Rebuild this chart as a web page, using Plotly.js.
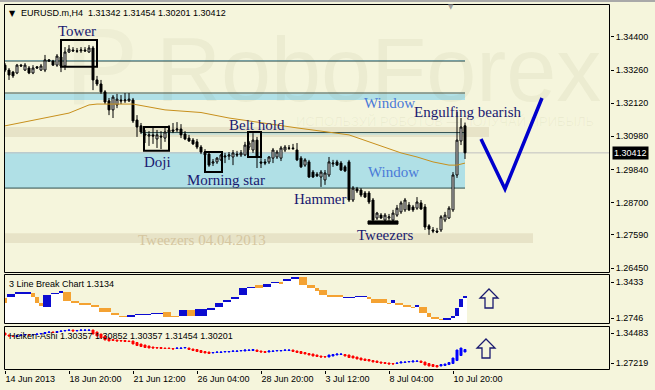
<!DOCTYPE html>
<html><head><meta charset="utf-8">
<script src="https://cdn.plot.ly/plotly-3.0.1.min.js"></script>
<style>html,body{margin:0;padding:0;background:#f5f5dc;}#chart{width:655px;height:390px;}</style>
</head><body><div id="chart"></div>
<script>
// ---------------- DATA ----------------
const tickIdx = [0,16,32,48,64,80,96,112];
const tickText = ['14 Jun 2013','18 Jun 20:00','21 Jun 12:00','26 Jun 04:00','28 Jun 20:00','3 Jul 12:00','8 Jul 04:00','10 Jul 20:00'];
const priceTicks = [1.344,1.3326,1.3212,1.3098,1.2984,1.287,1.2759,1.2645];
const priceTickText = ['1.34400','1.33260','1.32120','1.30980','1.29840','1.28700','1.27590','1.26450'];
const lbTicks = [1.3433,1.2746];
const haTicks = [1.34483,1.27219];

const open = [
1.3343,1.3326,1.3319,1.3316,1.3343,1.3326,1.3333,1.3316,1.3337,1.3326,
1.3326,1.3361,1.3357,1.3343,1.3371,1.3340,1.3388,1.3395,1.3392,1.3392,
1.3395,1.3388,1.3402,1.3292,1.3278,1.3251,1.3220,1.3189,1.3206,1.3223,
1.3220,1.3220,1.3223,1.3154,1.3134,1.3106,1.3099,1.3103,1.3089,1.3099,
1.3092,1.3113,1.3120,1.3120,1.3123,1.3106,1.3092,1.3085,1.3079,1.3061,
1.3044,1.3037,1.3006,1.3010,1.3017,1.3027,1.3030,1.3027,1.3037,1.3034,
1.3034,1.3061,1.3051,1.3085,1.3010,1.3010,1.3010,1.3023,1.3027,1.3023,
1.3051,1.3058,1.3058,1.3051,1.3023,1.2999,1.3010,1.2975,1.2968,1.2958,
1.2948,1.2965,1.3003,1.3010,1.3006,1.2993,1.3010,1.2879,1.2917,1.2913,
1.2903,1.2903,1.2879,1.2817,1.2827,1.2810,1.2817,1.2810,1.2827,1.2838,
1.2845,1.2862,1.2855,1.2851,1.2869,1.2855,1.2790,1.2776,1.2772,1.2776,
1.2810,1.2817,1.2845,1.2965,1.3082,1.31342];
const high = [
1.3350,1.3333,1.3323,1.3347,1.3347,1.3350,1.3340,1.3343,1.3340,1.3347,
1.3378,1.3364,1.3361,1.3381,1.3385,1.3405,1.3412,1.3405,1.3402,1.3405,
1.3405,1.3412,1.3409,1.3306,1.3292,1.3257,1.3230,1.3240,1.3244,1.3240,
1.3247,1.3247,1.3230,1.3171,1.3144,1.3120,1.3116,1.3127,1.3120,1.3116,
1.3127,1.3137,1.3144,1.3147,1.3140,1.3116,1.3103,1.3092,1.3089,1.3068,
1.3054,1.3044,1.3020,1.3027,1.3037,1.3041,1.3044,1.3051,1.3048,1.3051,
1.3079,1.3082,1.3109,1.3096,1.3023,1.3020,1.3030,1.3058,1.3051,1.3065,
1.3068,1.3068,1.3072,1.3075,1.3030,1.3023,1.3017,1.2982,1.2975,1.2982,
1.2982,1.3027,1.3017,1.3017,1.3013,1.2999,1.3017,1.2927,1.2924,1.2920,
1.2910,1.2910,1.2886,1.2838,1.2834,1.2834,1.2831,1.2845,1.2862,1.2876,
1.2886,1.2872,1.2862,1.2889,1.2879,1.2865,1.2796,1.2786,1.2783,1.2827,
1.2838,1.2858,1.2975,1.3182,1.3161,1.31454];
const low = [
1.3319,1.3292,1.3299,1.3312,1.3337,1.3323,1.3312,1.3312,1.3330,1.3323,
1.3319,1.3354,1.3340,1.3337,1.3319,1.3326,1.3385,1.3388,1.3385,1.3385,
1.3388,1.3385,1.3257,1.3271,1.3244,1.3209,1.3171,1.3161,1.3195,1.3209,
1.3213,1.3216,1.3144,1.3096,1.3106,1.3075,1.3065,1.3072,1.3058,1.3054,
1.3079,1.3106,1.3109,1.3113,1.3092,1.3085,1.3079,1.3068,1.3054,1.3037,
1.3030,1.2993,1.2996,1.3003,1.3013,1.3006,1.3017,1.2999,1.3027,1.3027,
1.3030,1.3051,1.3041,1.2989,1.2989,1.2999,1.3003,1.3006,1.3020,1.3013,
1.3044,1.3051,1.3051,1.3013,1.2989,1.2993,1.2955,1.2955,1.2958,1.2924,
1.2931,1.2958,1.2993,1.2996,1.2979,1.2975,1.2872,1.2872,1.2903,1.2889,
1.2886,1.2865,1.2807,1.2810,1.2814,1.2803,1.2803,1.2803,1.2821,1.2831,
1.2838,1.2841,1.2838,1.2845,1.2845,1.2776,1.2759,1.2765,1.2765,1.2769,
1.2803,1.2814,1.2838,1.2955,1.3068,1.30201];
const close = [
1.3326,1.3309,1.3306,1.3343,1.3340,1.3343,1.3316,1.3333,1.3333,1.3340,
1.3361,1.3357,1.3343,1.3374,1.3340,1.3388,1.3398,1.3392,1.3391,1.3395,
1.3392,1.3402,1.3292,1.3278,1.3251,1.3216,1.3189,1.3233,1.3226,1.3220,
1.3223,1.3226,1.3151,1.3130,1.3113,1.3103,1.3103,1.3099,1.3103,1.3096,
1.3113,1.3120,1.3116,1.3123,1.3103,1.3089,1.3082,1.3072,1.3061,1.3044,
1.3034,1.2999,1.3010,1.3023,1.3034,1.3030,1.3034,1.3041,1.3034,1.3041,
1.3068,1.3075,1.3085,1.3027,1.3006,1.3006,1.3027,1.3051,1.3044,1.3058,
1.3061,1.3057,1.3056,1.3017,1.2993,1.3017,1.2958,1.2958,1.2962,1.2975,
1.2972,1.3010,1.3006,1.2999,1.2982,1.2979,1.2879,1.2920,1.2910,1.2896,
1.2889,1.2872,1.2810,1.2834,1.2817,1.2827,1.2821,1.2834,1.2851,1.2869,
1.2879,1.2845,1.2845,1.2872,1.2848,1.2786,1.2779,1.2772,1.2769,1.2821,
1.2827,1.2851,1.2965,1.3085,1.3130,1.30412];

// moving average (sampled readings)
const maIdx = [0,16,21,23,32,40,49,56,73,83,86,99,103,107,111,113,115];
const maVal = [1.3134,1.3178,1.3206,1.3209,1.3209,1.3189,1.3180,1.3161,1.3127,1.3109,1.3103,1.3041,1.3027,1.3010,1.2999,1.2999,1.3006];

// 3 Line Break bricks
const lbStart = [0,1,3,7,8,9,10,12,14,15,17,19,22,24,27,29,31,33,37,40,42,44,46,48,51,53,55,57,59,61,63,65,67,69,70,72,74,76,78,79,81,85,88,91,92,96,97,98,100,102,103,104,106,107,109,110,112,113,114,115];
const lbEnd   = [0,2,6,7,8,9,11,13,14,16,18,21,23,26,28,30,32,36,39,41,43,45,47,50,52,54,56,58,60,62,64,66,68,69,71,73,75,77,78,80,84,87,90,91,95,96,97,99,101,102,103,105,106,108,109,111,112,113,114,115];
const lbHigh = [1.3128,1.3204,1.3242,1.3223,1.3147,1.3032,1.3185,1.3223,1.3261,1.3242,1.3071,1.3032,1.2994,1.2937,1.2842,1.2784,1.2803,1.2823,1.2842,1.2861,1.2784,1.2899,1.2899,1.2918,1.2937,1.3032,1.3090,1.3147,1.3319,1.3338,1.3376,1.3395,1.3433,1.3433,1.3490,1.3528,1.3528,1.3376,1.3319,1.3280,1.3185,1.3147,1.3166,1.3147,1.3109,1.3032,1.3090,1.3032,1.2994,1.2956,1.2994,1.2956,1.2842,1.2765,1.2727,1.2746,1.2784,1.2937,1.3109,1.3166];
const lbLow  = [1.3032,1.3147,1.3204,1.3147,1.3032,1.2975,1.2956,1.3204,1.3223,1.3071,1.3032,1.2994,1.2956,1.2861,1.2803,1.2765,1.2765,1.2803,1.2823,1.2765,1.2765,1.2784,1.2784,1.2784,1.2899,1.2956,1.3051,1.3109,1.3185,1.3319,1.3319,1.3338,1.3414,1.3395,1.3452,1.3490,1.3376,1.3319,1.3261,1.3185,1.3147,1.3128,1.3147,1.3109,1.3032,1.3013,1.3032,1.2994,1.2956,1.2937,1.2956,1.2842,1.2765,1.2727,1.2708,1.2708,1.2746,1.2784,1.2956,1.3128];
const lbUp   = [0,1,1,0,0,0,1,1,1,0, 0,0,0,0,0,0,1,1,1,0, 0,1,0,1,1,1,1,1,1,1, 0,1,1,0,1,1,0,0,0,0, 0,1,1,0,0,0,1,0,0,0, 1,0,0,0,0,1,1,1,1,1];

// Heiken-Ashi bodies
const haOpen = [
1.3448,1.3400,1.3376,1.3364,1.3388,1.3400,1.3412,1.3400,1.3412,1.3424,
1.3436,1.3460,1.3473,1.3460,1.3485,1.3497,1.3509,1.3521,1.3497,1.3509,
1.3509,1.3509,1.3521,1.3473,1.3424,1.3376,1.3327,1.3291,1.3279,1.3267,
1.3267,1.3255,1.3255,1.3218,1.3182,1.3158,1.3134,1.3109,1.3097,1.3097,
1.3085,1.3085,1.3073,1.3073,1.3073,1.3085,1.3085,1.3061,1.3049,1.3024,
1.3000,1.2988,1.2964,1.2976,1.2976,1.2988,1.2988,1.3000,1.3000,1.3013,
1.3013,1.3024,1.3024,1.3037,1.3013,1.3000,1.2988,1.3000,1.3013,1.3013,
1.3024,1.3024,1.3037,1.3013,1.3000,1.2976,1.2952,1.2940,1.2916,1.2891,
1.2879,1.2867,1.2891,1.2916,1.2928,1.2928,1.2916,1.2891,1.2867,1.2843,
1.2819,1.2807,1.2782,1.2770,1.2746,1.2734,1.2722,1.2710,1.2710,1.2722,
1.2734,1.2746,1.2746,1.2758,1.2770,1.2746,1.2710,1.2685,1.2661,1.2649,
1.2661,1.2685,1.2710,1.2782,1.2903,1.2988];
const haClose = [
1.3400,1.3376,1.3364,1.3388,1.3400,1.3412,1.3400,1.3412,1.3424,1.3436,
1.3460,1.3473,1.3460,1.3485,1.3497,1.3509,1.3521,1.3497,1.3509,1.3521,
1.3521,1.3521,1.3424,1.3376,1.3327,1.3279,1.3255,1.3267,1.3255,1.3255,
1.3242,1.3242,1.3182,1.3145,1.3121,1.3097,1.3085,1.3085,1.3085,1.3073,
1.3073,1.3073,1.3061,1.3085,1.3085,1.3097,1.3049,1.3024,1.3000,1.2976,
1.2964,1.2952,1.2976,1.2988,1.2988,1.3000,1.3000,1.3013,1.3013,1.3024,
1.3037,1.3037,1.3049,1.3000,1.2988,1.2976,1.3013,1.3013,1.3024,1.3024,
1.3037,1.3037,1.3000,1.2976,1.2952,1.2940,1.2916,1.2891,1.2879,1.2867,
1.2867,1.2916,1.2928,1.2940,1.2940,1.2891,1.2855,1.2843,1.2819,1.2795,
1.2782,1.2770,1.2746,1.2734,1.2722,1.2710,1.2698,1.2698,1.2722,1.2746,
1.2746,1.2758,1.2770,1.2770,1.2734,1.2673,1.2649,1.2637,1.2625,1.2685,
1.2698,1.2734,1.2843,1.3037,1.3085,1.3049];

// drawn levels (price)
const lineLevels = [1.3357,1.3247,1.3111,1.2920];
const lineFrom   = [0,0,34,0];
const windowHi   = [1.3361,1.3244,1.3108,1.3044];
const windowLo   = [1.3357,1.3223,1.3104,1.2920];
const windowFrom = [0,0,34,0];
const levelEnd = 115;
const beigeHi = [1.3130,1.2765], beigeLo = [1.3096,1.2731], beigeEnd = [121,132];

// pattern boxes
const patName = ['Tower','Doji','Morning star','Belt hold','Tweezers'];
const patX0 = [14,34.75,50,60.75,90.75];
const patX1 = [23,41,54.25,64,98.25];
const patHi = [1.3429,1.3130,1.3044,1.3113,1.2807];
const patLo = [1.3337,1.3048,1.2975,1.3027,1.2796];

// ---------------- DRAWING ----------------
const xMin = -0.25, xMax = 151.25;
const y2Range = [1.26316, 1.35666];
const bars = open.map((_, i) => i);
const P = px => (px - 4) / 606;     // pixel -> paper x
const Q = py => (370 - py) / 366;   // pixel -> paper y

const traces = [];
traces.push({type:'scatter', mode:'lines', x:maIdx, y:maVal, xaxis:'x', yaxis:'y',
  line:{color:'#c8901c', width:1}, hoverinfo:'skip'});
traces.push({type:'candlestick', x:bars, open:open, high:high, low:low, close:close, xaxis:'x', yaxis:'y',
  increasing:{line:{color:'#000000', width:1}, fillcolor:'#ffffff'},
  decreasing:{line:{color:'#000000', width:1}, fillcolor:'#000000'}, whiskerwidth:0, hoverinfo:'skip'});

const lbX = lbStart.map((s, k) => (s + lbEnd[k]) / 2);
const lbW = lbStart.map((s, k) => lbEnd[k] - s + 1);
// white area under the bricks
traces.push({type:'bar', x:lbX, width:lbW, base:lbHigh.map(() => y2Range[0]), y:lbHigh.map(h => h - y2Range[0]),
  xaxis:'x', yaxis:'y2', marker:{color:'#ffffff', line:{width:0}}, hoverinfo:'skip'});
// bricks
traces.push({type:'bar', x:lbX, width:lbW, base:lbLow, y:lbHigh.map((h, k) => h - lbLow[k]), xaxis:'x', yaxis:'y2',
  marker:{color:lbUp.map(u => u ? '#0c0cd0' : '#f4a232'), line:{width:0}}, hoverinfo:'skip'});

traces.push({type:'candlestick', x:bars, open:haOpen, close:haClose,
  high:haOpen.map((o, i) => Math.max(o, haClose[i])), low:haOpen.map((o, i) => Math.min(o, haClose[i])),
  xaxis:'x', yaxis:'y3',
  increasing:{line:{color:'#0000ff', width:1}, fillcolor:'#0000ff'},
  decreasing:{line:{color:'#ff0000', width:1}, fillcolor:'#ff0000'}, whiskerwidth:0, hoverinfo:'skip'});

const shapes = [];
beigeHi.forEach((h, k) => shapes.push({type:'rect', xref:'x', yref:'y', layer:'below', x0:xMin, x1:beigeEnd[k], y0:beigeLo[k], y1:h, fillcolor:'#e7e3c7', line:{width:0}}));
windowHi.forEach((h, k) => shapes.push({type:'rect', xref:'x', yref:'y', layer:'below', x0:windowFrom[k] === 0 ? xMin : windowFrom[k], x1:levelEnd, y0:windowLo[k], y1:h, fillcolor:'#b0e0e6', line:{width:0}}));
lineLevels.forEach((v, k) => shapes.push({type:'line', xref:'x', yref:'y', layer:'below', x0:lineFrom[k] === 0 ? xMin : lineFrom[k], x1:levelEnd, y0:v, y1:v, line:{color:'#2f4f4f', width:1}}));
const last = close[close.length - 1];
shapes.push({type:'line', xref:'x', yref:'y', layer:'below', x0:xMin, x1:xMax, y0:last, y1:last, line:{color:'#c0c0c0', width:1}});
patName.forEach((n, k) => {
  const filled = n === 'Tweezers';
  shapes.push({type:'rect', xref:'x', yref:'y', x0:patX0[k], x1:patX1[k], y0:patLo[k], y1:patHi[k],
    line:{color:'#000000', width:filled ? 1 : 2}, fillcolor:filled ? '#000000' : 'rgba(0,0,0,0)'});
});
[[4.5,4.5,609.5,272.5],[4.5,274.5,609.5,323.5],[4.5,326.5,609.5,369.5]].forEach(b => shapes.push({type:'rect', xref:'paper', yref:'paper',
  x0:P(b[0]), x1:P(b[2]), y0:Q(b[3]), y1:Q(b[1]), line:{color:'#000000', width:1}}));
shapes.push({type:'rect', xref:'paper', yref:'paper', x0:P(0), x1:P(655), y0:Q(2), y1:Q(0), fillcolor:'#a9a9a9', line:{width:0}});
const vpts = [[481,139],[505,189],[542,98]];
shapes.push({type:'path', xref:'paper', yref:'paper', path:'M' + vpts.map(p => P(p[0]) + ',' + Q(p[1])).join(' L'), line:{color:'#0000cd', width:3.5}});
function arrow(cx, tip) {
  const pts = [[cx, tip],[cx + 9, tip + 9],[cx + 4, tip + 9],[cx + 4, tip + 19],[cx - 4, tip + 19],[cx - 4, tip + 9],[cx - 9, tip + 9]];
  return {type:'path', xref:'paper', yref:'paper', path:'M' + pts.map(p => P(p[0]) + ',' + Q(p[1])).join(' L') + ' Z',
    line:{color:'#1a1a70', width:1.3}, fillcolor:'rgba(0,0,0,0)'};
}
shapes.push(arrow(489, 289));
shapes.push(arrow(486, 339));

const serif = 'Liberation Serif, Times New Roman, serif';
const sans = 'Liberation Sans, Arial, sans-serif';
const ann = [];
function txt(t, px, py, size, color, family, xanchor, extra) {
  ann.push(Object.assign({text:t, xref:'paper', yref:'paper', x:P(px), y:Q(py), xanchor:xanchor || 'center', yanchor:'middle',
    showarrow:false, borderpad:0, font:{family:family, size:size, color:color}}, extra || {}));
}
// watermark (very faint)
txt('RoboForex', 378, 70, 90, 'rgba(90,90,40,0.055)', sans);
txt('P', 102, 66, 110, 'rgba(90,90,40,0.045)', sans);
txt('ИСПОЛЬЗУЙ РОБОТОВ — ПОЛУЧАЙ ПРИБЫЛЬ', 445, 121, 13, 'rgba(90,90,40,0.06)', sans);
// header
txt('▼', 12, 13, 8, '#000000', 'DejaVu Sans');
txt('EURUSD.m,H4  1.31342 1.31454 1.30201 1.30412', 20, 13, 9, '#000000', sans, 'left');
txt('▼', 451, 7, 7, '#a0a0a0', 'DejaVu Sans');
// pattern labels
const navy = '#191970';
txt('Tower', 77, 31, 15, navy, serif);
txt('Doji', 157, 162, 15, navy, serif);
txt('Morning star', 226, 180, 15, navy, serif);
txt('Belt hold', 257, 125, 15, navy, serif);
txt('Hammer', 320, 199, 15, navy, serif);
txt('Tweezers', 385, 235, 15, navy, serif);
txt('Engulfing bearish', 468, 112, 15, navy, serif);
txt('Window', 389, 103, 15, '#4a7ad8', serif);
txt('Window', 393, 172, 15, '#4a7ad8', serif);
txt('Tweezers 04.04.2013', 202, 240, 15, '#d5c6a0', serif);
// sub pane labels
txt('3 Line Break Chart 1.3134', 8, 284, 9, '#000000', sans, 'left');
txt('Heiken-Ashi 1.30357 1.30852 1.30357 1.31454 1.30201', 8, 336, 9, '#000000', sans, 'left');
// current price tag
txt(last.toFixed(5), 612, 153, 9, '#ffffff', sans, 'left', {bgcolor:'#000000', borderpad:1});

const yCommon = {side:'right', anchor:'x', ticks:'outside', ticklen:3, tickcolor:'#000000', showgrid:false, zeroline:false,
  showline:false, fixedrange:true, tickfont:{family:sans, size:9, color:'#000000'}};
const layout = {
  width:655, height:390, margin:{l:4, r:45, t:4, b:20}, paper_bgcolor:'#f5f5dc', plot_bgcolor:'#f5f5dc',
  showlegend:false, hovermode:false, boxgap:0.3, barmode:'overlay', bargap:0,
  xaxis:{range:[xMin, xMax], anchor:'y3', rangeslider:{visible:false}, tickmode:'array', tickvals:tickIdx, ticktext:tickText,
    ticks:'outside', ticklen:3, tickcolor:'#000000', ticklabelposition:'outside right', showgrid:false, zeroline:false, showline:false,
    fixedrange:true, tickfont:{family:sans, size:9, color:'#000000'}},
  yaxis:Object.assign({}, yCommon, {domain:[Q(273), 1], range:[1.262788, 1.355324], tickmode:'array', tickvals:priceTicks, ticktext:priceTickText}),
  yaxis2:Object.assign({}, yCommon, {domain:[Q(324), Q(275)], range:y2Range, tickmode:'array', tickvals:lbTicks, ticktext:['1.3433','1.2746']}),
  yaxis3:Object.assign({}, yCommon, {domain:[0, Q(327)], range:[1.25524, 1.35936], tickmode:'array', tickvals:haTicks, ticktext:['1.34483','1.27219']}),
  shapes:shapes, annotations:ann
};
Plotly.newPlot('chart', traces, layout, {staticPlot:true, displayModeBar:false});
</script>
</body></html>
